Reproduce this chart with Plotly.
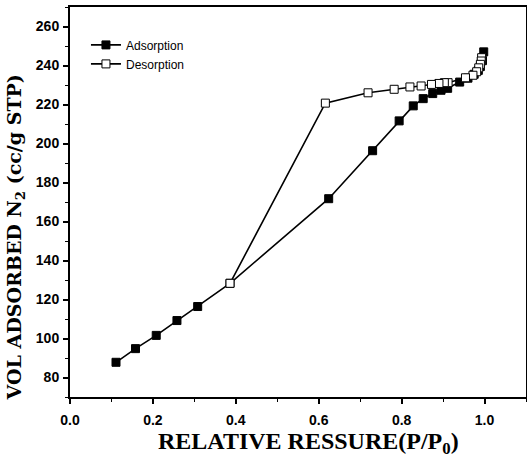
import plotly.graph_objects as go

ads_x = [0.111, 0.158, 0.208, 0.258, 0.308, 0.386, 0.624, 0.730, 0.794, 0.828, 0.852,
         0.875, 0.895, 0.911, 0.940, 0.960, 0.975, 0.985, 0.990, 0.995, 0.998]
ads_y = [87.8, 94.8, 101.6, 109.2, 116.4, 128.3, 171.7, 196.3, 211.6, 219.3, 223.0,
         225.6, 227.3, 228.3, 231.5, 233.5, 235.5, 237.5, 239.5, 242.5, 247.0]

des_x = [0.993, 0.992, 0.990, 0.986, 0.981, 0.972, 0.954, 0.912, 0.903, 0.890, 0.872,
         0.847, 0.820, 0.782, 0.719, 0.616, 0.386]
des_y = [244.0, 242.3, 240.6, 238.8, 236.8, 235.0, 233.7, 231.2, 231.2, 230.8, 230.3,
         229.5, 229.0, 227.8, 226.0, 220.7, 128.3]

x_ticks = [0.0, 0.2, 0.4, 0.6, 0.8, 1.0]
y_ticks = [80, 100, 120, 140, 160, 180, 200, 220, 240, 260]

x_title = "RELATIVE RESSURE(P/P<sub>0</sub>)"
y_title = "VOL ADSORBED N<sub>2</sub> (cc/g STP)"

fig = go.Figure()
fig.add_trace(go.Scatter(
    x=ads_x, y=ads_y, mode="lines+markers", name="Adsorption",
    line=dict(color="black", width=1.6),
    marker=dict(symbol="square", size=8, color="black", line=dict(color="black", width=1)),
))
fig.add_trace(go.Scatter(
    x=des_x, y=des_y, mode="lines+markers", name="Desorption",
    line=dict(color="black", width=1.6),
    marker=dict(symbol="square", size=8, color="white", line=dict(color="black", width=1)),
))

tickfont = dict(family="Liberation Sans Narrow, Liberation Sans, Arial", size=14,
                color="black", weight="bold")

fig.update_layout(
    width=527, height=457,
    margin=dict(l=70, r=1, t=7, b=60, autoexpand=False),
    paper_bgcolor="white", plot_bgcolor="white",
    showlegend=True,
    legend=dict(x=0.035, y=0.94, xanchor="left", yanchor="top",
                bgcolor="rgba(0,0,0,0)", borderwidth=0,
                font=dict(family="Liberation Sans Narrow, Liberation Sans, Arial", size=12, color="black"),
                tracegroupgap=0, itemwidth=30),
    xaxis=dict(
        range=[0, 1.1], tickvals=x_ticks, ticktext=[f"{v:.1f}" for v in x_ticks],
        ticks="outside", ticklen=5, tickwidth=1.5, tickcolor="black",
        minor=dict(dtick=0.1, ticks="outside", ticklen=3, tickcolor="black", tickwidth=1),
        showline=True, linecolor="black", linewidth=2, mirror=True,
        showgrid=False, zeroline=False, tickfont=tickfont, automargin=False,
        ticklabelstandoff=4,
    ),
    yaxis=dict(
        range=[70, 270], tickvals=y_ticks,
        ticks="outside", ticklen=5, tickwidth=1.5, tickcolor="black",
        minor=dict(dtick=10, ticks="outside", ticklen=3, tickcolor="black", tickwidth=1),
        showline=True, linecolor="black", linewidth=2, mirror=True,
        showgrid=False, zeroline=False, tickfont=tickfont, automargin=False,
        ticklabelstandoff=1,
    ),
    annotations=[
        dict(text=x_title, xref="paper", yref="paper", x=0.522, y=-0.118,
             xanchor="center", yanchor="middle", showarrow=False,
             font=dict(family="Liberation Serif, Times New Roman", size=24, color="black", weight="bold")),
        dict(text=y_title, xref="paper", yref="paper", x=-0.12, y=0.41, textangle=-90,
             xanchor="center", yanchor="middle", showarrow=False,
             font=dict(family="DejaVu Serif", size=19, color="black", weight="bold")),
    ],
)

fig.write_html("out.html", config={"displayModeBar": False},
               post_script="document.body.style.margin='0';document.body.style.padding='0';")
